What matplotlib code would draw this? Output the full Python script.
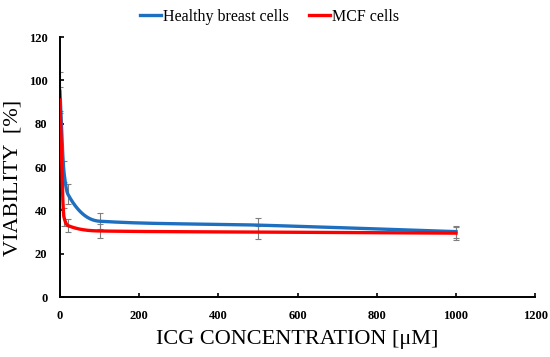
import numpy as np
import matplotlib
matplotlib.use("Agg")
from matplotlib import pyplot as plt

# data
conc = [0, 10, 20, 100, 500, 1000]
healthy = [95, 58, 47.5, 35, 33.2, 30.2]
healthy_err = [9, 5, 4.6, 3.8, 3.3, 2.8]
mcf = [91, 37, 33, 30.5, 30, 29.5]
mcf_err = [6, 4, 3.0, 3.3, 3.0, 3.0]

xticks = [0, 200, 400, 600, 800, 1000, 1200]
yticks = [0, 20, 40, 60, 80, 100, 120]


def smooth(x, y, n=80):
    # monotone cubic (Fritsch-Carlson) through the points, only for drawing
    x = np.asarray(x, float)
    y = np.asarray(y, float)
    h = np.diff(x)
    d = np.diff(y) / h
    m = np.zeros_like(y)
    m[0] = d[0]
    m[-1] = d[-1]
    for k in range(1, len(x) - 1):
        if d[k - 1] * d[k] <= 0:
            m[k] = 0
        else:
            w1 = 2 * h[k] + h[k - 1]
            w2 = h[k] + 2 * h[k - 1]
            m[k] = (w1 + w2) / (w1 / d[k - 1] + w2 / d[k])
    xs, ys = [], []
    for k in range(len(x) - 1):
        t = np.linspace(0, 1, n)
        h00 = 2 * t ** 3 - 3 * t ** 2 + 1
        h10 = t ** 3 - 2 * t ** 2 + t
        h01 = -2 * t ** 3 + 3 * t ** 2
        h11 = t ** 3 - t ** 2
        xs.extend(x[k] + t * h[k])
        ys.extend(h00 * y[k] + h10 * h[k] * m[k] + h01 * y[k + 1] + h11 * h[k] * m[k + 1])
    return np.array(xs), np.array(ys)


fig = plt.figure(figsize=(5.5, 3.57), dpi=100)
ax = fig.add_axes([0.109, 0.168, 0.864, 0.728])

serif = "Liberation Serif"

ax.errorbar(conc, healthy, yerr=healthy_err, fmt="none", ecolor="#7f7f7f",
            elinewidth=0.8, capsize=2, capthick=0.8, zorder=1)
ax.errorbar(conc, mcf, yerr=mcf_err, fmt="none", ecolor="#7f7f7f",
            elinewidth=0.8, capsize=2, capthick=0.8, zorder=1)

hx, hy = smooth(conc, healthy)
mx, my = smooth(conc, mcf)
ax.plot(hx, hy, color="#1f6fc0", lw=2.4, label="Healthy breast cells", zorder=2)
ax.plot(mx, my, color="#ff0000", lw=2.4, label="MCF cells", zorder=3)

ax.set_xlim(0, 1200)
ax.set_ylim(0, 120)
ax.set_xticks(xticks)
ax.set_yticks(yticks)
ax.set_xticklabels([str(v) for v in xticks], fontfamily=serif, fontweight="bold", fontsize=9)
ax.set_yticklabels([str(v) for v in yticks], fontfamily=serif, fontweight="bold", fontsize=9)
ax.tick_params(direction="in", length=3, width=1.2)
ax.tick_params(axis="x", pad=9)
ax.tick_params(axis="y", pad=9)

for s in ["top", "right"]:
    ax.spines[s].set_visible(False)
for s in ["left", "bottom"]:
    ax.spines[s].set_linewidth(1.4)
    ax.spines[s].set_color("black")

ax.set_xlabel("ICG CONCENTRATION [\u03bcM]", fontfamily=serif, fontsize=16, labelpad=6)
ax.set_ylabel("VIABILITY  [%]", fontfamily=serif, fontsize=16)
ax.yaxis.set_label_coords(-0.078, 0.46)

fig.legend(loc="upper center", bbox_to_anchor=(0.49, 1.015), ncol=2, frameon=False,
           prop={"family": serif, "size": 11.5}, handlelength=1.3, handletextpad=0.1,
           columnspacing=1.3)

fig.savefig("out.png", dpi=100)
